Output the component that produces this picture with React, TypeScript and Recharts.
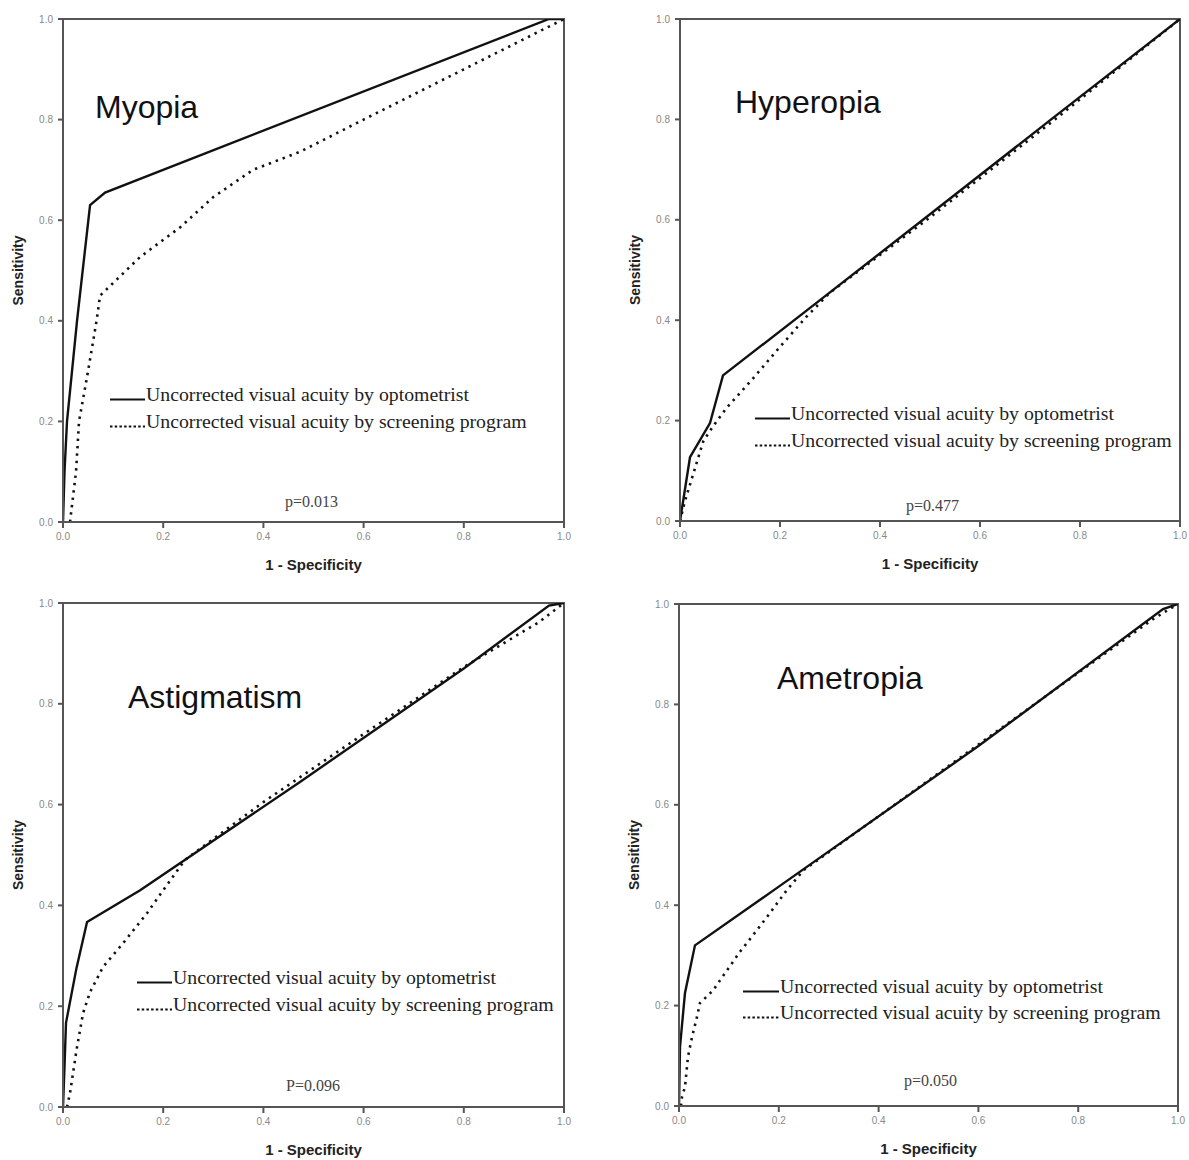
import { LineChart, Line, XAxis, YAxis, ReferenceArea } from 'recharts';

// ---- data ----
const axisTicks = [0, 0.2, 0.4, 0.6, 0.8, 1.0];
const seriesNames = [
  'Uncorrected visual acuity by optometrist',
  'Uncorrected visual acuity by screening program',
];

const myopiaOptX = [0, 0.003, 0.008, 0.028, 0.054, 0.084, 0.97, 1];
const myopiaOptY = [0, 0.1, 0.2, 0.4, 0.63, 0.655, 1, 1];
const myopiaScrX = [0.014, 0.026, 0.032, 0.05, 0.067, 0.074, 0.154, 0.234, 0.3, 0.379, 0.473, 0.6, 0.8, 0.97, 1];
const myopiaScrY = [0, 0.1, 0.2, 0.3, 0.4, 0.45, 0.527, 0.586, 0.646, 0.7, 0.736, 0.8, 0.9, 0.985, 1];

const hyperOptX = [0, 0.02, 0.06, 0.086, 0.28, 0.5, 0.75, 1];
const hyperOptY = [0, 0.127, 0.195, 0.29, 0.44, 0.611, 0.806, 1];
const hyperScrX = [0, 0.01, 0.033, 0.047, 0.067, 0.093, 0.147, 0.2, 0.253, 0.3, 0.5, 0.75, 0.95, 1];
const hyperScrY = [0, 0.04, 0.115, 0.16, 0.19, 0.225, 0.285, 0.347, 0.407, 0.455, 0.605, 0.8, 0.96, 1];

const astigOptX = [0, 0.003, 0.006, 0.027, 0.048, 0.154, 0.473, 0.8, 0.97, 1];
const astigOptY = [0, 0.08, 0.167, 0.276, 0.367, 0.43, 0.645, 0.87, 0.995, 1];
const astigScrX = [0.008, 0.014, 0.027, 0.04, 0.054, 0.08, 0.12, 0.168, 0.2, 0.243, 0.4, 0.6, 0.8, 0.95, 1];
const astigScrY = [0, 0.028, 0.113, 0.186, 0.228, 0.278, 0.325, 0.385, 0.43, 0.49, 0.605, 0.74, 0.873, 0.962, 1];

const ametOptX = [0, 0.002, 0.012, 0.032, 0.19, 0.6, 0.97, 1];
const ametOptY = [0, 0.118, 0.225, 0.32, 0.43, 0.717, 0.99, 1];
const ametScrX = [0.004, 0.006, 0.012, 0.018, 0.026, 0.036, 0.042, 0.068, 0.096, 0.122, 0.156, 0.182, 0.216, 0.25, 0.6, 0.95, 1];
const ametScrY = [0, 0.018, 0.038, 0.098, 0.137, 0.177, 0.205, 0.23, 0.27, 0.307, 0.35, 0.384, 0.43, 0.47, 0.72, 0.97, 1];

const zip = (xs: number[], ys: number[]) => xs.map((x, i) => ({ x, y: ys[i] }));

const SANS = '"Liberation Sans", Arial, sans-serif';
const SERIF = '"Liberation Serif", "Times New Roman", serif';
const AXIS = '#555';

interface PanelProps {
  title: string;
  pText: string;
  opt: { x: number; y: number }[];
  scr: { x: number; y: number }[];
  left: number;
  top: number;
  w: number;
  h: number;
  titlePos: [number, number];
  pPos: [number, number];
  legend: { x: number; textX: number; y1: number; y2: number };
}

const ML = 63;
const MT = 19;

function RocPanel(p: PanelProps) {
  const width = ML + p.w + 20;
  const height = MT + p.h + 52;
  const fmt = (v: number) => v.toFixed(1);
  const rx = (x: number) => ML + x;
  const ry = (y: number) => MT + y;
  return (
    <div style={{ position: 'absolute', left: p.left - ML, top: p.top - MT, width, height }}>
      <LineChart width={width} height={height} margin={{ top: MT, right: 20, bottom: 0, left: 0 }}>
        <XAxis
          type="number"
          dataKey="x"
          domain={[0, 1]}
          ticks={axisTicks}
          tickFormatter={fmt}
          height={52}
          tickSize={6}
          tickMargin={5}
          stroke={AXIS}
          strokeWidth={2}
          tick={{ fontSize: 10, fill: '#888', fontFamily: SANS }}
          allowDataOverflow
        />
        <YAxis
          type="number"
          dataKey="y"
          domain={[0, 1]}
          ticks={axisTicks}
          tickFormatter={fmt}
          width={ML}
          tickSize={5}
          tickMargin={5}
          stroke={AXIS}
          strokeWidth={2}
          tick={{ fontSize: 10, fill: '#888', fontFamily: SANS }}
          allowDataOverflow
        />
        <ReferenceArea x1={0} x2={1} y1={0} y2={1} fill="none" fillOpacity={0} stroke={AXIS} strokeWidth={2} />
        <Line
          data={p.scr}
          dataKey="y"
          type="linear"
          stroke="#111"
          strokeWidth={2.6}
          strokeDasharray="2.4 5"
          dot={false}
          isAnimationActive={false}
        />
        <Line
          data={p.opt}
          dataKey="y"
          type="linear"
          stroke="#111"
          strokeWidth={2.4}
          dot={false}
          isAnimationActive={false}
        />
      </LineChart>
      <svg width={width} height={height} style={{ position: 'absolute', left: 0, top: 0, pointerEvents: 'none' }}>
        <text x={rx(p.titlePos[0])} y={ry(p.titlePos[1])} fontFamily={SANS} fontSize={32} fill="#111">
          {p.title}
        </text>
        <line x1={rx(p.legend.x)} x2={rx(p.legend.textX - 1)} y1={ry(p.legend.y1 - 1.5)} y2={ry(p.legend.y1 - 1.5)} stroke="#111" strokeWidth={2} />
        <text x={rx(p.legend.textX)} y={ry(p.legend.y1)} fontFamily={SERIF} fontSize={19.8} fill="#222">
          {seriesNames[0]}
        </text>
        <line x1={rx(p.legend.x)} x2={rx(p.legend.textX - 1)} y1={ry(p.legend.y2 - 1.5)} y2={ry(p.legend.y2 - 1.5)} stroke="#111" strokeWidth={2} strokeDasharray="2.5 2.2" />
        <text x={rx(p.legend.textX)} y={ry(p.legend.y2)} fontFamily={SERIF} fontSize={19.8} fill="#222">
          {seriesNames[1]}
        </text>
        <text x={rx(p.pPos[0])} y={ry(p.pPos[1])} fontFamily={SERIF} fontSize={16} fill="#444">
          {p.pText}
        </text>
        <text x={rx(p.w / 2)} y={ry(p.h + 48)} textAnchor="middle" fontFamily={SANS} fontWeight="bold" fontSize={15} fill="#222">
          1 - Specificity
        </text>
        <text
          x={rx(-40)}
          y={ry(p.h / 2)}
          textAnchor="middle"
          transform={`rotate(-90 ${rx(-40)} ${ry(p.h / 2)})`}
          fontFamily={SANS}
          fontWeight="bold"
          fontSize={14}
          fill="#222"
        >
          Sensitivity
        </text>
      </svg>
    </div>
  );
}

export default function App() {
  return (
    <div style={{ position: 'absolute', left: 0, top: 0, width: 1189, height: 1160, background: '#fff', overflow: 'hidden' }}>
      <RocPanel
        title="Myopia"
        pText="p=0.013"
        opt={zip(myopiaOptX, myopiaOptY)}
        scr={zip(myopiaScrX, myopiaScrY)}
        left={63}
        top={19}
        w={501}
        h={503}
        titlePos={[32, 99]}
        pPos={[222, 488]}
        legend={{ x: 47, textX: 83, y1: 382, y2: 409 }}
      />
      <RocPanel
        title="Hyperopia"
        pText="p=0.477"
        opt={zip(hyperOptX, hyperOptY)}
        scr={zip(hyperScrX, hyperScrY)}
        left={680}
        top={19}
        w={500}
        h={502}
        titlePos={[55, 94]}
        pPos={[226, 492]}
        legend={{ x: 75, textX: 111, y1: 401, y2: 428 }}
      />
      <RocPanel
        title="Astigmatism"
        pText="P=0.096"
        opt={zip(astigOptX, astigOptY)}
        scr={zip(astigScrX, astigScrY)}
        left={63}
        top={603}
        w={501}
        h={504}
        titlePos={[65, 105]}
        pPos={[223, 488]}
        legend={{ x: 74, textX: 110, y1: 381, y2: 408 }}
      />
      <RocPanel
        title="Ametropia"
        pText="p=0.050"
        opt={zip(ametOptX, ametOptY)}
        scr={zip(ametScrX, ametScrY)}
        left={679}
        top={604}
        w={499}
        h={502}
        titlePos={[98, 85]}
        pPos={[225, 482]}
        legend={{ x: 64, textX: 101, y1: 389, y2: 415 }}
      />
    </div>
  );
}
